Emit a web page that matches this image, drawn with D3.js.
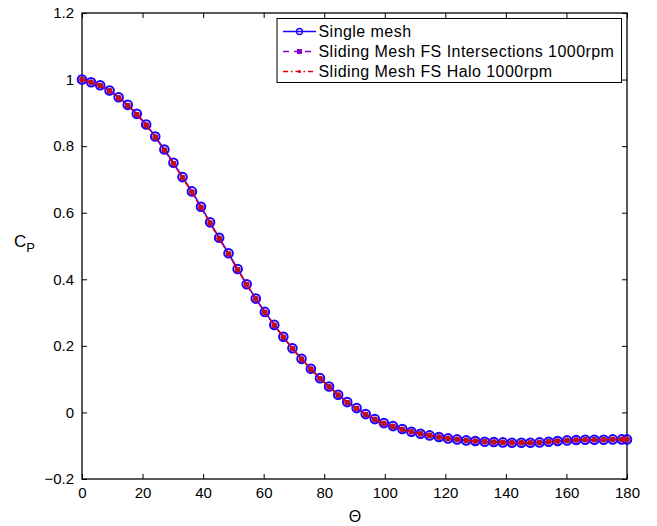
<!DOCTYPE html>
<html><head><meta charset="utf-8">
<script src="https://cdn.jsdelivr.net/npm/d3@7"></script>
<style>body{margin:0;background:#fff}svg{display:block}text{font-family:"Liberation Sans",Arial,sans-serif}</style>
</head><body>
<script>
const theta = [0,3.0,6.0,9.1,12.1,15.1,18.1,21.2,24.2,27.2,30.2,33.2,36.3,39.3,42.3,45.3,48.4,51.4,54.4,57.4,60.4,63.5,66.5,69.5,72.5,75.6,78.6,81.6,84.6,87.6,90.7,93.7,96.7,99.7,102.7,105.8,108.8,111.8,114.8,117.9,120.9,123.9,126.9,129.9,133.0,136.0,139.0,142.0,145.1,148.1,151.1,154.1,157.1,160.2,163.2,166.2,169.2,172.3,175.3,178.3,180];
const cpSingle = [1.0,0.992,0.983,0.967,0.947,0.924,0.897,0.865,0.829,0.790,0.750,0.707,0.664,0.618,0.571,0.525,0.478,0.431,0.385,0.342,0.302,0.263,0.227,0.193,0.161,0.131,0.103,0.078,0.053,0.031,0.013,-0.005,-0.020,-0.032,-0.041,-0.050,-0.058,-0.064,-0.069,-0.074,-0.078,-0.081,-0.084,-0.086,-0.088,-0.089,-0.090,-0.091,-0.091,-0.091,-0.090,-0.088,-0.086,-0.084,-0.083,-0.082,-0.082,-0.082,-0.081,-0.081,-0.081];
const cpIntersections = [1.0,0.992,0.982,0.966,0.945,0.922,0.895,0.863,0.827,0.788,0.748,0.705,0.662,0.616,0.569,0.523,0.476,0.429,0.384,0.341,0.301,0.262,0.226,0.192,0.160,0.130,0.102,0.077,0.052,0.030,0.012,-0.006,-0.021,-0.033,-0.042,-0.051,-0.058,-0.064,-0.069,-0.074,-0.078,-0.081,-0.084,-0.086,-0.088,-0.089,-0.090,-0.091,-0.091,-0.091,-0.090,-0.088,-0.086,-0.084,-0.083,-0.082,-0.082,-0.082,-0.081,-0.081,-0.081];
const cpHalo = [1.0,0.992,0.982,0.966,0.945,0.922,0.895,0.863,0.827,0.788,0.748,0.705,0.662,0.616,0.569,0.523,0.476,0.429,0.384,0.341,0.301,0.262,0.226,0.192,0.160,0.130,0.102,0.077,0.052,0.030,0.012,-0.006,-0.021,-0.033,-0.042,-0.051,-0.058,-0.064,-0.069,-0.074,-0.078,-0.081,-0.084,-0.086,-0.088,-0.089,-0.090,-0.091,-0.091,-0.091,-0.090,-0.088,-0.086,-0.084,-0.083,-0.082,-0.082,-0.082,-0.081,-0.081,-0.081];
const xTicks = [0,20,40,60,80,100,120,140,160,180];
const yTicks = [-0.2,0,0.2,0.4,0.6,0.8,1,1.2];
const yTickLabels = ["\u22120.2","0","0.2","0.4","0.6","0.8","1","1.2"];
const seriesNames = ["Single mesh","Sliding Mesh FS Intersections 1000rpm","Sliding Mesh FS Halo 1000rpm"];

const W=657,H=526;
const L=82,R=627,T=13,B=479;
const svg=d3.select("body").append("svg").attr("width",W).attr("height",H);
const x=d3.scaleLinear().domain([0,180]).range([L,R]);
const y=d3.scaleLinear().domain([-0.2,1.2]).range([B,T]);
const fs=15;

// axes
const ax=svg.append("g");
const xb=ax.append("g").attr("transform",`translate(0,${B})`).call(d3.axisBottom(x).tickValues(xTicks).tickSize(-5).tickPadding(8).tickFormat(d3.format("d")));
const xt=ax.append("g").attr("transform",`translate(0,${T})`).call(d3.axisTop(x).tickValues(xTicks).tickSize(-5).tickFormat(""));
const yl=ax.append("g").attr("transform",`translate(${L},0)`).call(d3.axisLeft(y).tickValues(yTicks).tickSize(-5).tickPadding(8).tickFormat((d,i)=>yTickLabels[i]));
const yr=ax.append("g").attr("transform",`translate(${R},0)`).call(d3.axisRight(y).tickValues(yTicks).tickSize(-5).tickFormat(""));
ax.selectAll(".domain").remove();
ax.selectAll("line").attr("stroke","#000").attr("stroke-width",1);
ax.selectAll("text").attr("font-size",fs).attr("fill","#000").attr("font-family","Liberation Sans,Arial,sans-serif");
xb.selectAll("text").attr("dy","0.71em");
svg.append("rect").attr("x",L).attr("y",T).attr("width",R-L).attr("height",B-T).attr("fill","none").attr("stroke","#000").attr("stroke-width",1.3);

// labels
const cl=svg.append("text").attr("x",14).attr("y",247).attr("font-size",17);
cl.append("tspan").text("C");
cl.append("tspan").attr("font-size",13).attr("dy",5).text("P");
svg.append("text").attr("x",355).attr("y",522).attr("text-anchor","middle").attr("font-size",16).text("\u0398");

// series
const line=d3.line().x((d,i)=>x(theta[i])).y(d=>y(d));
const plot=svg.append("g");
const blue="#1a00ff", purple="#8a00c8", red="#e00000";
plot.append("path").datum(cpSingle).attr("d",line).attr("fill","none").attr("stroke",blue).attr("stroke-width",1.5);
plot.selectAll("circle.s").data(cpSingle).join("circle").attr("class","s").attr("cx",(d,i)=>x(theta[i])).attr("cy",d=>y(d)).attr("r",4.3).attr("fill","none").attr("stroke",blue).attr("stroke-width",2);
plot.append("path").datum(cpIntersections).attr("d",line).attr("fill","none").attr("stroke",purple).attr("stroke-width",1.5).attr("stroke-dasharray","6,4");
plot.selectAll("rect.i").data(cpIntersections).join("rect").attr("class","i").attr("x",(d,i)=>x(theta[i])-2.5).attr("y",d=>y(d)-2.5).attr("width",5).attr("height",5).attr("fill",purple);
plot.append("path").datum(cpHalo).attr("d",line).attr("fill","none").attr("stroke",red).attr("stroke-width",1.5).attr("stroke-dasharray","6,3,1.5,3");
plot.selectAll("circle.h").data(cpHalo).join("circle").attr("class","h").attr("cx",(d,i)=>x(theta[i])).attr("cy",d=>y(d)).attr("r",2.8).attr("fill","#c0101a");

// legend
const lg=svg.append("g");
lg.append("rect").attr("x",277).attr("y",18.5).attr("width",344.5).attr("height",64).attr("fill","#fff").attr("stroke","#000").attr("stroke-width",1);
const rows=[31.5,51.5,71.5];
const lx0=283,lx1=316;
lg.append("line").attr("x1",lx0).attr("x2",lx1).attr("y1",rows[0]).attr("y2",rows[0]).attr("stroke",blue).attr("stroke-width",1.5);
lg.append("circle").attr("cx",(lx0+lx1)/2).attr("cy",rows[0]).attr("r",3).attr("fill","none").attr("stroke",blue).attr("stroke-width",1.3);
lg.append("line").attr("x1",lx0).attr("x2",lx1).attr("y1",rows[1]).attr("y2",rows[1]).attr("stroke",purple).attr("stroke-width",1.5).attr("stroke-dasharray","6,5");
lg.append("rect").attr("x",(lx0+lx1)/2-2.5).attr("y",rows[1]-2.5).attr("width",5).attr("height",5).attr("fill",purple);
lg.append("line").attr("x1",lx0).attr("x2",lx1).attr("y1",rows[2]).attr("y2",rows[2]).attr("stroke",red).attr("stroke-width",1.3).attr("stroke-dasharray","5,3,1.5,3");
lg.append("circle").attr("cx",(lx0+lx1)/2).attr("cy",rows[2]).attr("r",1.5).attr("fill",red);
seriesNames.forEach((n,i)=>lg.append("text").attr("x",318.5).attr("y",rows[i]).attr("dy","0.35em").attr("font-size",16).attr("letter-spacing","0.45px").text(n));
</script>
</body></html>
